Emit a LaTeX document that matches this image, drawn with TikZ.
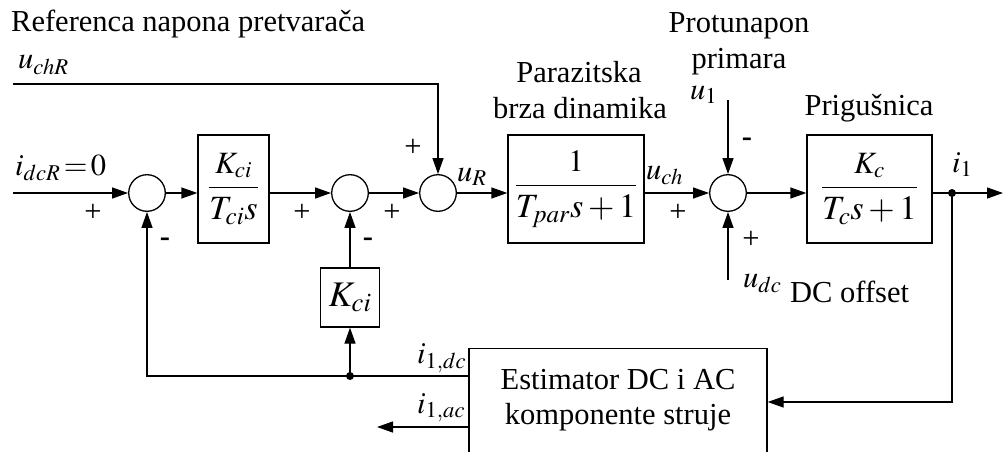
\documentclass[tikz,border=0pt]{standalone}
\usepackage{amsmath}
\usepackage{mathptmx}
\usepackage{fontspec}
\setmainfont{Liberation Serif}
\usetikzlibrary{arrows.meta,calc}

\newcommand{\zlomak}[2]{\fontsize{34}{38}\selectfont$\dfrac{\text{\fontsize{31}{34}\selectfont$#1$}}{#2}$}

\tikzset{
  blok/.style={draw,line width=1.3pt,inner sep=0pt},
  sum/.style={draw,circle,line width=1.3pt,minimum size=36.6pt,inner sep=0pt},
  sig/.style={line width=1.3pt,-{Triangle[length=16pt,width=11pt]}},
  dot/.style={circle,fill,inner sep=0pt,minimum size=8pt},
  lbl/.style={inner sep=0pt,anchor=base west},
  txt/.style={inner sep=0pt,anchor=base},
  znak/.style={inner sep=0pt},
}

\begin{document}
\begin{tikzpicture}[x=1pt,y=-1pt,font=\fontsize{30.5}{35}\selectfont]
\useasboundingbox (0,0) rectangle (1003,452);
\node[sum] (s1) at (147,193) {};
\node[sum] (s2) at (350,193) {};
\node[sum] (s3) at (438,193) {};
\node[sum] (s4) at (728,193) {};
\node[blok,minimum width=71pt,minimum height=108pt] (b1) at (233.5,189) {\zlomak{K_{ci}}{T_{ci}s}};
\node[blok,minimum width=136pt,minimum height=108pt] (b2) at (576,189) {\zlomak{1}{T_{par}s+1}};
\node[blok,minimum width=125pt,minimum height=108pt] (b3) at (869.5,189) {\zlomak{K_c}{T_cs+1}};
\node[blok,minimum width=59pt,minimum height=59pt] (bK) at (350,297.5) {\fontsize{36}{40}\selectfont$K_{ci}$};
\node[blok,anchor=north,minimum width=298pt,inner ysep=21pt,text depth=90pt,align=center] (est) at (618,348)
  {Estimator DC i AC\\komponente struje};
\coordinate (in) at (13,193);
\coordinate (out) at (1003,193);
\coordinate (ref) at (13,84);
\coordinate (u1) at (728,100);
\coordinate (udc) at (728,280);
\coordinate (dcout) at ($(est.north west)+(0,28)$);
\coordinate (acout) at ($(est.north west)+(0,79)$);
\coordinate (estin) at ($(est.north east)+(0,54)$);
\coordinate (acend) at (377,427);
\node[dot] (d1) at (952,193) {};
\node[dot] (d2) at (dcout -| bK) {};

\draw[sig] (in) -- (s1);
\draw[sig] (s1) -- (s1 -| b1.west);
\draw[sig] (s1 -| b1.east) -- (s2);
\draw[sig] (s2) -- (s3);
\draw[sig] (s3) -- (s3 -| b2.west);
\draw[sig] (s3 -| b2.east) -- (s4);
\draw[sig] (s4) -- (s4 -| b3.west);
\draw[sig] (s4 -| b3.east) -- (out);
\draw[sig] (d1.center) |- (estin);
\draw[sig] (ref) -| (s3);
\draw[sig] (u1) -- (s4);
\draw[sig] (udc) -- (s4);
\draw[sig] (dcout) -| (s1);
\draw[sig] (d2.center) -- (bK);
\draw[sig] (bK) -- (s2);
\draw[sig] (acout) -- (acend);

\node[lbl] (tref) at (11,32) {Referenca napona pretvarača};
\node[lbl] (tuchr) at (18,69) {$u_{chR}$};
\node[lbl] (tidcr) at (15,175) {$i_{dcR}\!=\!0$};
\node[lbl] (tur) at (457,181) {$u_R$};
\node[lbl] (tuch) at (646,179) {$u_{ch}$};
\node[lbl] (tu1) at (690,99) {$u_1$};
\node[lbl] (ti1) at (952,172) {$i_1$};
\node[lbl] (tudc) at (743,287) {$u_{dc}$};
\node[lbl] (toff) at (790,302) {DC offset};
\node[lbl] (tidc) at (417,363) {$i_{1,dc}$};
\node[lbl] (tiac) at (417,413) {$i_{1,ac}$};
\node[txt] (tprot) at (739,33) {Protunapon};
\node[txt] (tprim) at (739,68) {primara};
\node[txt] (tpar) at (579,82) {Parazitska};
\node[txt] (tbrza) at (580,118) {brza dinamika};
\node[txt] (tprig) at (869,115) {Prigušnica};
\foreach \px/\py [count=\i] in {93/213,302/213,392/213,413/148,678/213,751/240}
  \node[znak] (plus\i) at (\px,\py) {+};
\foreach \px/\py [count=\i] in {165/242,368/242,747/142}
  \node[znak] (minus\i) at (\px,\py) {\textbf{-}};
\end{tikzpicture}
\end{document}
